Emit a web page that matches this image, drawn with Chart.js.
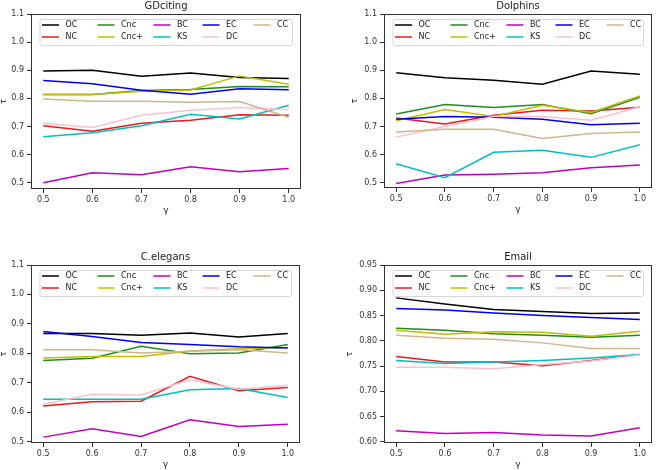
<!DOCTYPE html>
<html>
<head>
<meta charset="utf-8">
<script src="https://cdn.jsdelivr.net/npm/chart.js@4.4.0/dist/chart.umd.min.js"></script>
<style>
  html, body { margin: 0; padding: 0; background: #fff; }
  #wrap { position: relative; width: 656px; height: 470px; overflow: hidden; }
  canvas { position: absolute; }
</style>
</head>
<body>
<div id="wrap">
  <canvas id="gd" width="326" height="235" style="left:0;top:0"></canvas>
  <canvas id="dol" width="330" height="235" style="left:326px;top:0"></canvas>
  <canvas id="cel" width="326" height="235" style="left:0;top:235px"></canvas>
  <canvas id="mail" width="330" height="235" style="left:326px;top:235px"></canvas>
</div>
<script>
// x values (gamma) and the methods compared
const gammas = [0.5, 0.6, 0.7, 0.8, 0.9, 1.0];
const methods = ['OC', 'NC', 'Cnc', 'Cnc+', 'BC', 'KS', 'EC', 'DC', 'CC'];

// tau values, one row per method (same order as methods)
const gdciting = [
  [0.897, 0.900, 0.879, 0.890, 0.874, 0.871],
  [0.703, 0.683, 0.712, 0.722, 0.742, 0.740],
  [0.814, 0.814, 0.828, 0.832, 0.842, 0.841],
  [0.814, 0.814, 0.825, 0.830, 0.880, 0.850],
  [0.500, 0.536, 0.529, 0.557, 0.539, 0.551],
  [0.664, 0.678, 0.703, 0.744, 0.727, 0.776],
  [0.864, 0.852, 0.829, 0.815, 0.834, 0.831],
  [0.712, 0.697, 0.740, 0.758, 0.768, 0.760],
  [0.798, 0.790, 0.790, 0.786, 0.789, 0.733]
];
const dolphins = [
  [0.891, 0.873, 0.864, 0.850, 0.897, 0.886],
  [0.730, 0.709, 0.740, 0.758, 0.755, 0.768],
  [0.744, 0.778, 0.767, 0.778, 0.745, 0.804],
  [0.720, 0.760, 0.735, 0.775, 0.750, 0.808],
  [0.497, 0.527, 0.530, 0.535, 0.553, 0.563],
  [0.567, 0.518, 0.608, 0.615, 0.590, 0.635],
  [0.726, 0.735, 0.733, 0.726, 0.706, 0.711],
  [0.662, 0.700, 0.735, 0.735, 0.722, 0.770],
  [0.680, 0.690, 0.690, 0.657, 0.675, 0.680]
];
const celegans = [
  [0.867, 0.867, 0.861, 0.869, 0.855, 0.867],
  [0.621, 0.635, 0.637, 0.722, 0.673, 0.684],
  [0.775, 0.783, 0.824, 0.798, 0.801, 0.830],
  [0.784, 0.789, 0.789, 0.808, 0.815, 0.820],
  [0.515, 0.543, 0.517, 0.574, 0.551, 0.559],
  [0.644, 0.644, 0.644, 0.676, 0.680, 0.650],
  [0.874, 0.857, 0.837, 0.830, 0.822, 0.818],
  [0.627, 0.661, 0.658, 0.710, 0.678, 0.691],
  [0.812, 0.812, 0.801, 0.807, 0.812, 0.801]
];
const email = [
  [0.885, 0.873, 0.862, 0.858, 0.854, 0.855],
  [0.769, 0.758, 0.758, 0.751, 0.761, 0.773],
  [0.825, 0.821, 0.814, 0.811, 0.807, 0.811],
  [0.821, 0.813, 0.818, 0.817, 0.809, 0.819],
  [0.622, 0.617, 0.619, 0.614, 0.612, 0.628],
  [0.761, 0.755, 0.758, 0.761, 0.766, 0.773],
  [0.864, 0.861, 0.855, 0.850, 0.846, 0.842],
  [0.748, 0.748, 0.745, 0.753, 0.760, 0.772],
  [0.811, 0.805, 0.803, 0.796, 0.785, 0.785]
];

// y tick labels
const tauTicks = [0.5, 0.6, 0.7, 0.8, 0.9, 1.0, 1.1];
const emailTicks = [0.60, 0.65, 0.70, 0.75, 0.80, 0.85, 0.90, 0.95];

const colors = ['#000000', '#e41a1c', '#228b22', '#bfbf00', '#bf00bf', '#00bfbf', '#0000ee', '#ffc0cb', '#d2b48c'];
const FONT = 'DejaVu Sans';
const INK = '#333';

// matplotlib style frame round the plot area
const framePlugin = {
  id: 'frame',
  afterDraw(chart) {
    const { ctx, chartArea: a } = chart;
    ctx.save();
    ctx.strokeStyle = INK;
    ctx.lineWidth = 1;
    ctx.strokeRect(Math.round(a.left) + 0.5, Math.round(a.top) + 0.5,
      Math.round(a.right - a.left) - 1, Math.round(a.bottom - a.top) - 1);
    ctx.restore();
  }
};

// title centred over the plot area
const titlePlugin = {
  id: 'panelTitle',
  afterDraw(chart, args, opts) {
    const { ctx, chartArea: a } = chart;
    ctx.save();
    ctx.font = '10px "' + FONT + '"';
    ctx.fillStyle = '#222';
    ctx.textAlign = 'center';
    ctx.textBaseline = 'middle';
    ctx.fillText(opts.text, (a.left + a.right) / 2, a.top - 8);
    ctx.restore();
  }
};

// legend with 5 columns filled column by column, like matplotlib ncol=5
const legendPlugin = {
  id: 'colLegend',
  afterDraw(chart) {
    const { ctx, chartArea: a } = chart;
    const x0 = a.left + 8.5, y0 = a.top + 5;
    const w = a.right - a.left - 17.5, h = 26;
    ctx.save();
    ctx.beginPath();
    ctx.roundRect(x0 + 0.5, y0 + 0.5, w, h, 2);
    ctx.fillStyle = 'rgba(255,255,255,0.85)';
    ctx.fill();
    ctx.strokeStyle = '#d6d6d6';
    ctx.lineWidth = 1;
    ctx.stroke();
    const colX = [11, 66.5, 122.5, 171.5, 222.5];
    const rowY = [11, 23];
    ctx.font = '8px "' + FONT + '"';
    ctx.textBaseline = 'middle';
    ctx.textAlign = 'left';
    chart.data.datasets.forEach((ds, i) => {
      const cx = a.left + colX[Math.floor(i / 2)];
      const cy = a.top + rowY[i % 2];
      ctx.strokeStyle = ds.borderColor;
      ctx.lineWidth = 1.5;
      ctx.beginPath();
      ctx.moveTo(cx, cy);
      ctx.lineTo(cx + 17, cy);
      ctx.stroke();
      ctx.fillStyle = '#222';
      ctx.fillText(ds.label, cx + 23.5, cy);
    });
    ctx.restore();
  }
};

function makePanel(id, title, values, yMin, yMax, yTicks, decimals, box) {
  const datasets = methods.map((m, i) => ({
    label: m,
    data: gammas.map((g, j) => ({ x: g, y: values[i][j] })),
    borderColor: colors[i],
    borderWidth: 1.5,
    pointRadius: 0,
    fill: false,
    tension: 0,
    order: methods.length - i
  }));

  return new Chart(document.getElementById(id), {
    type: 'line',
    data: { datasets },
    options: {
      responsive: false,
      animation: false,
      devicePixelRatio: 1,
      layout: { padding: { left: box.padL, right: box.padR, top: box.padT, bottom: box.padB } },
      plugins: {
        legend: { display: false },
        tooltip: { enabled: false },
        panelTitle: { text: title }
      },
      scales: {
        x: {
          type: 'linear',
          min: 0.475,
          max: 1.025,
          afterFit: (s) => { s.height = 27; },
          afterBuildTicks: (s) => { s.ticks = gammas.map((v) => ({ value: v })); },
          grid: { drawOnChartArea: false, tickLength: 4, color: INK },
          border: { display: false },
          ticks: { font: { family: FONT, size: 8 }, color: INK, padding: 2, maxRotation: 0,
            callback: (v) => v.toFixed(1) },
          title: { display: true, text: 'γ', font: { family: FONT, size: 9, lineHeight: 1.2 }, color: '#222', padding: 0 }
        },
        y: {
          type: 'linear',
          min: yMin,
          max: yMax,
          afterFit: (s) => { s.width = box.axisW; },
          afterBuildTicks: (s) => { s.ticks = yTicks.map((v) => ({ value: v })); },
          grid: { drawOnChartArea: false, tickLength: 4, color: INK },
          border: { display: false },
          ticks: { font: { family: FONT, size: 8 }, color: INK, padding: 3,
            callback: (v) => v.toFixed(decimals) },
          title: { display: true, text: 'τ', font: { family: FONT, size: 8, lineHeight: 1 }, color: '#222', padding: 0 }
        }
      }
    },
    plugins: [framePlugin, titlePlugin, legendPlugin]
  });
}

makePanel('gd', 'GDciting', gdciting, 0.478, 1.1, tauTicks, 1,
  { padL: 0, axisW: 31, padR: 25, padT: 14, padB: 19 });
makePanel('dol', 'Dolphins', dolphins, 0.481, 1.1, tauTicks, 1,
  { padL: 25, axisW: 33, padR: 4, padT: 14, padB: 20 });
makePanel('cel', 'C.elegans', celegans, 0.495, 1.1, tauTicks, 1,
  { padL: 0, axisW: 31, padR: 26, padT: 30, padB: 0 });
makePanel('mail', 'Email', email, 0.598, 0.95, emailTicks, 2,
  { padL: 20, axisW: 38, padR: 4, padT: 30, padB: 0 });
</script>
</body>
</html>
